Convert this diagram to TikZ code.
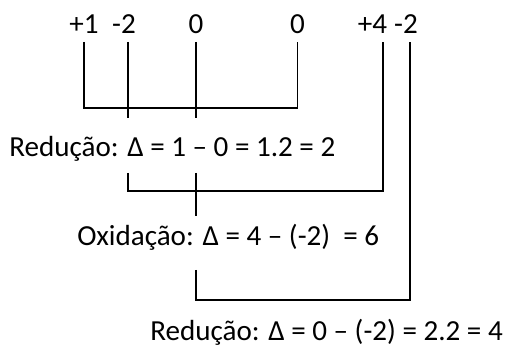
\documentclass[tikz,border=0pt]{standalone}
\usepackage{fontspec}
\setmainfont{Carlito}
\usetikzlibrary{positioning}

\begin{document}
\begin{tikzpicture}[
  x=0.75pt, y=-0.75pt,
  num/.style = {inner sep=0pt, text depth=0pt, outer ysep=6pt, anchor=base,
                font=\fontsize{21.8}{26}\selectfont},
  eqn/.style = {inner sep=0pt, text depth=0pt, outer ysep=12pt, anchor=base west,
                font=\fontsize{21.8}{26}\selectfont},
  bar/.style = {line width=1.3pt},
]
  \useasboundingbox (0,0) rectangle (517,352);
  % oxidation numbers
  \node[num] (hA) at (84,34)    {+1};
  \node[num] (oA) at (124,34)   {-2};
  \node[num] (zA) at (196,34)   {0};
  \node[num] (zB) at (297.5,34) {0};
  \node[num] (sB) at (372.5,34) {+4};
  \node[num] (oB) at (406,34)   {-2};
  % variations
  \node[eqn] (red1) at (9,157)   {Redução: Δ = 1 – 0 = 1.2 = 2};
  \node[eqn, outer ysep=18pt] (oxi) at (77,246) {Oxidação: Δ = 4 – (-2)\ \ = 6};
  \node[eqn] (red2) at (150,340) {Redução: Δ = 0 – (-2) = 2.2 = 4};
  % levels of the brackets
  \coordinate (lvA) at (0,108);
  \coordinate (kA)  at (0,118);
  \coordinate (lvB) at (0,191);
  \coordinate (kB)  at (0,216);
  \coordinate (lvC) at (0,300);
  \coordinate (oAt) at ([xshift=2.8pt]oA.south);
  \coordinate (sBt) at ([xshift=7.9pt]sB.south);
  \coordinate (oBt) at ([xshift=3pt]oB.south);
  % brackets
  \draw[bar] (hA.south) -- (hA.south |- lvA) -| (zB.south);
  \draw[bar] (oAt) -- (oAt |- kA);
  \draw[bar] (zA.south) -- (zA.south |- kA);
  \draw[bar] (oAt |- red1.south) -- (oAt |- lvB) -| (sBt);
  \draw[bar] (zA.south |- red1.south) -- (zA.south |- kB);
  \draw[bar] (zA.south |- oxi.south) -- (zA.south |- lvC) -| (oBt);
\end{tikzpicture}
\end{document}
